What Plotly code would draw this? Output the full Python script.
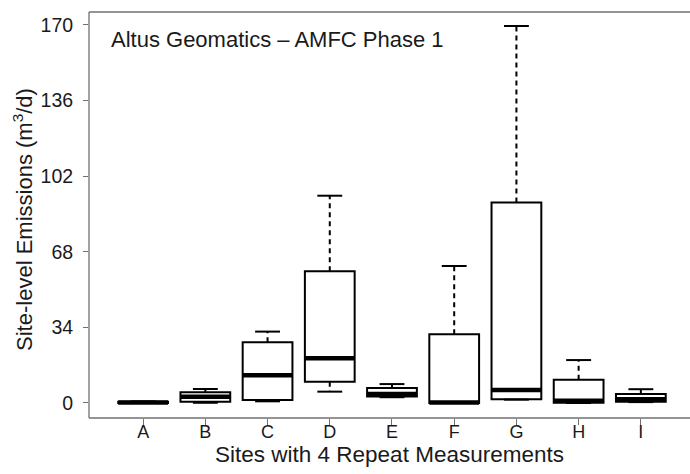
import plotly.graph_objects as go

# Site-level emission summaries (m3/d), five-number summary per site
sites = ["A", "B", "C", "D", "E", "F", "G", "H", "I"]
mins = [0.0, 0.1, 0.75, 5.1, 2.6, 0.0, 1.5, 0.0, 0.4]
q1s = [0.0, 0.6, 1.35, 9.6, 2.9, 0.0, 1.65, 0.1, 0.6]
medians = [0.2, 2.8, 12.5, 20.1, 4.0, 0.2, 5.8, 1.0, 1.7]
q3s = [0.6, 4.8, 27.3, 59.2, 6.7, 30.9, 90.1, 10.5, 4.0]
maxs = [0.7, 6.3, 32.1, 93.2, 8.5, 61.6, 169.5, 19.3, 6.2]
y_ticks = [0, 34, 68, 102, 136, 170]

pos = list(range(1, len(sites) + 1))
BOX_HALF = 0.4
CAP_HALF = 0.2
FONT = "Liberation Sans, Arial, sans-serif"

fig = go.Figure()

# Boxes (whiskers are drawn separately as dashed lines)
fig.add_trace(go.Box(
    x=pos, q1=q1s, median=medians, q3=q3s,
    lowerfence=q1s, upperfence=q3s,
    width=2 * BOX_HALF, whiskerwidth=0, boxpoints=False,
    fillcolor="white", line=dict(color="black", width=2),
    hoverinfo="skip", showlegend=False,
))

# Dashed whiskers from box edges to extremes
wx, wy = [], []
for p, lo, a, b, hi in zip(pos, mins, q1s, q3s, maxs):
    wx += [p, p, None, p, p, None]
    wy += [b, hi, None, a, lo, None]
fig.add_trace(go.Scatter(
    x=wx, y=wy, mode="lines",
    line=dict(color="black", width=2, dash="5px,4px"),
    hoverinfo="skip", showlegend=False,
))

# Whisker caps
cx, cy = [], []
for p, lo, hi in zip(pos, mins, maxs):
    cx += [p - CAP_HALF, p + CAP_HALF, None, p - CAP_HALF, p + CAP_HALF, None]
    cy += [hi, hi, None, lo, lo, None]
fig.add_trace(go.Scatter(
    x=cx, y=cy, mode="lines",
    line=dict(color="black", width=2),
    hoverinfo="skip", showlegend=False,
))

# Heavy median bars
mx, my = [], []
for p, m in zip(pos, medians):
    mx += [p - BOX_HALF, p + BOX_HALF, None]
    my += [m, m, None]
fig.add_trace(go.Scatter(
    x=mx, y=my, mode="lines",
    line=dict(color="black", width=4.5),
    hoverinfo="skip", showlegend=False,
))

axis_col = "#707070"
frame = dict(color=axis_col, width=1.3)
fig.update_layout(
    width=690, height=474,
    margin=dict(l=89, r=0, t=12, b=56),
    plot_bgcolor="white", paper_bgcolor="white",
    font=dict(family=FONT, color="#1a1a1a"),
    xaxis=dict(
        range=[0.13, 9.79], tickvals=pos, ticktext=sites,
        showgrid=False, zeroline=False, showline=False,
        ticks="outside", ticklen=6, tickcolor=axis_col, tickwidth=1,
        tickfont=dict(size=18), ticklabelstandoff=-9,
        title=dict(text="Sites with 4 Repeat Measurements",
                   font=dict(size=22.5, color="#1a1a1a"), standoff=4),
    ),
    yaxis=dict(
        range=[-6.75, 175.8], tickvals=y_ticks,
        showgrid=False, zeroline=False, showline=False,
        ticks="outside", ticklen=5, tickcolor=axis_col, tickwidth=1,
        tickfont=dict(size=19.5), ticklabelstandoff=6,
    ),
    # Plot frame: left, bottom and top edges
    shapes=[
        dict(type="line", xref="paper", yref="paper", x0=0, x1=0, y0=0, y1=1, line=frame),
        dict(type="line", xref="paper", yref="paper", x0=0, x1=1, y0=0, y1=0, line=frame),
        dict(type="line", xref="paper", yref="paper", x0=0, x1=1, y0=1, y1=1, line=frame),
    ],
    annotations=[
        dict(text="Altus Geomatics \u2013 AMFC Phase 1", xref="paper", yref="paper",
             x=0.033, y=0.933, xanchor="left", yanchor="middle", showarrow=False,
             font=dict(size=22, color="#1a1a1a")),
        dict(text="Site-level Emissions (m<sup>3</sup>/d)", xref="paper", yref="paper",
             x=-0.11, y=0.49, xanchor="center", yanchor="middle", textangle=-90,
             showarrow=False, font=dict(size=22, color="#1a1a1a")),
    ],
)

fig.write_html("out.html")
